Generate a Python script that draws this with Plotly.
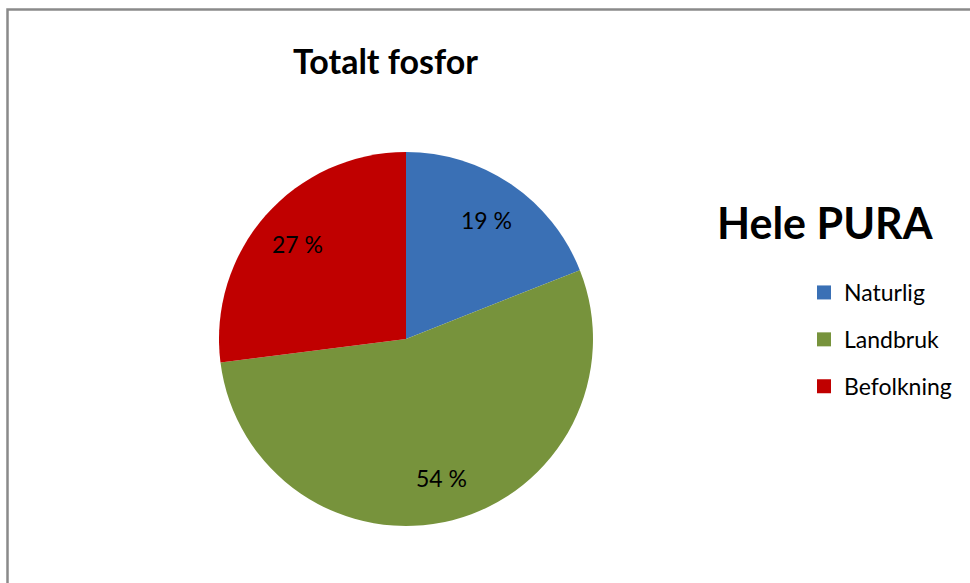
import math
import plotly.graph_objects as go

categories = ["Naturlig", "Landbruk", "Befolkning"]
values = [19, 54, 27]
colors = ["#3a70b5", "#77933C", "#C00000"]

W, H = 970, 583
cx, cy, R = 406, 339, 187
label_r = 0.77

fig = go.Figure()
fig.add_trace(go.Pie(
    labels=categories,
    values=values,
    sort=False,
    direction="clockwise",
    rotation=0,
    marker=dict(colors=colors, line=dict(width=0)),
    textinfo="none",
    hoverinfo="label+percent",
    showlegend=False,
    domain=dict(x=[(cx - R) / W, (cx + R) / W], y=[1 - (cy + R) / H, 1 - (cy - R) / H]),
))

# legend entries (one group each so the vertical spacing can be set)
for cat, col in zip(categories, colors):
    fig.add_trace(go.Scatter(
        x=[None], y=[None], mode="markers", name=cat, legendgroup=cat,
        marker=dict(symbol="square", size=14, color=col, line=dict(width=0)),
        hoverinfo="skip",
    ))

# percentage labels, placed from the slice mid-angles
annotations = []
total = sum(values)
acc = 0
for v in values:
    mid = (acc + v / 2) / total * 2 * math.pi
    acc += v
    px = cx + label_r * R * math.sin(mid)
    py = cy - label_r * R * math.cos(mid)
    annotations.append(dict(
        text=f"{v} %", xref="paper", yref="paper", x=px / W, y=1 - py / H,
        xanchor="center", yanchor="middle", showarrow=False,
        font=dict(family="Lato", size=23, color="#000000")))

annotations += [
    dict(text="<b>Totalt fosfor</b>", xref="paper", yref="paper",
         x=385 / W, y=1 - 60 / H, xanchor="center", yanchor="middle",
         showarrow=False, font=dict(family="Lato", size=34, color="#000000")),
    dict(text="<b>Hele PURA</b>", xref="paper", yref="paper",
         x=825 / W, y=1 - 222 / H, xanchor="center", yanchor="middle",
         showarrow=False, font=dict(family="Lato", size=43, color="#000000")),
]

fig.update_layout(
    width=W, height=H,
    margin=dict(l=0, r=0, t=0, b=0),
    paper_bgcolor="white",
    plot_bgcolor="rgba(0,0,0,0)",
    font=dict(family="Lato", color="#000000"),
    showlegend=True,
    xaxis=dict(visible=False),
    yaxis=dict(visible=False),
    legend=dict(
        x=804 / W, y=1 - 271 / H, xanchor="left", yanchor="top",
        font=dict(family="Lato", size=23, color="#000000"),
        bgcolor="rgba(0,0,0,0)",
        tracegroupgap=14,
    ),
    shapes=[dict(type="rect", xref="paper", yref="paper",
                 x0=7.5 / W, x1=1.02, y0=-0.02, y1=1 - 9.5 / H,
                 line=dict(color="#8a8a8a", width=2.5))],
    annotations=annotations,
)

fig.write_html("out.html")
